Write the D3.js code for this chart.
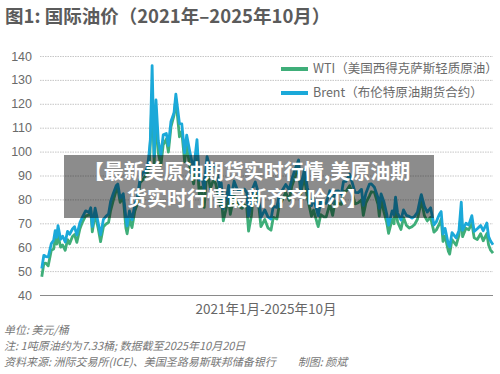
<!DOCTYPE html>
<html>
<head>
<meta charset="utf-8">
<script src="https://cdn.jsdelivr.net/npm/d3@7"></script>
<style>
  html, body { margin: 0; padding: 0; background: #fff; }
  svg { display: block; font-family: "Noto Sans CJK SC", "Noto Sans", sans-serif; }
</style>
</head>
<body>
<div id="chart"></div>
<script>
// sample dates (roughly every 10 days, with the spikes kept)
const dates = [
  "2021-01-04","2021-01-12","2021-01-20","2021-01-29","2021-02-10","2021-02-19","2021-02-25","2021-03-03","2021-03-08","2021-03-18",
  "2021-03-26","2021-04-05","2021-04-14","2021-04-22","2021-05-03","2021-05-11","2021-05-20","2021-06-01","2021-06-10","2021-06-23",
  "2021-07-06","2021-07-13","2021-07-19","2021-07-30","2021-08-10","2021-08-20","2021-08-31","2021-09-10","2021-09-20","2021-09-28",
  "2021-10-08","2021-10-20","2021-10-26","2021-11-04","2021-11-16","2021-11-26","2021-12-01","2021-12-10","2021-12-20","2021-12-31",
  "2022-01-10","2022-01-20","2022-01-31","2022-02-10","2022-02-18","2022-02-24","2022-03-01","2022-03-08","2022-03-16","2022-03-23",
  "2022-04-01","2022-04-11","2022-04-20","2022-05-02","2022-05-10","2022-05-20","2022-06-01","2022-06-08","2022-06-22","2022-07-01",
  "2022-07-12","2022-07-20","2022-08-01","2022-08-16","2022-08-29","2022-09-07","2022-09-15","2022-09-26","2022-10-07","2022-10-20",
  "2022-11-01","2022-11-10","2022-11-28","2022-12-01","2022-12-09","2022-12-20","2022-12-30","2023-01-05","2023-01-20","2023-01-31",
  "2023-02-07","2023-02-20","2023-03-01","2023-03-10","2023-03-17","2023-03-28","2023-04-03","2023-04-12","2023-04-24","2023-05-04",
  "2023-05-19","2023-05-31","2023-06-12","2023-06-21","2023-07-05","2023-07-13","2023-07-25","2023-08-08","2023-08-22","2023-09-01",
  "2023-09-12","2023-09-27","2023-10-05","2023-10-19","2023-10-31","2023-11-16","2023-11-24","2023-12-12","2023-12-22","2024-01-03",
  "2024-01-12","2024-01-26","2024-02-06","2024-02-16","2024-02-29","2024-03-11","2024-03-19","2024-03-28","2024-04-12","2024-04-22",
  "2024-05-03","2024-05-15","2024-05-28","2024-06-04","2024-06-14","2024-06-28","2024-07-05","2024-07-17","2024-07-31","2024-08-05",
  "2024-08-12","2024-08-23","2024-09-03","2024-09-10","2024-09-24","2024-10-01","2024-10-07","2024-10-15","2024-10-28","2024-11-07",
  "2024-11-18","2024-11-29","2024-12-10","2024-12-20","2024-12-31","2025-01-10","2025-01-15","2025-01-27","2025-02-07","2025-02-20",
  "2025-03-05","2025-03-14","2025-03-26","2025-04-02","2025-04-09","2025-04-17","2025-04-30","2025-05-05","2025-05-14","2025-05-30",
  "2025-06-10","2025-06-19","2025-06-24","2025-07-07","2025-07-18","2025-07-30","2025-08-08","2025-08-20","2025-09-02","2025-09-12",
  "2025-09-26","2025-10-03","2025-10-10","2025-10-20"
];

const brent = [
  51.1,56.6,56.1,55.9,61.5,62.9,66.9,64.1,69.0,63.3,
  64.6,62.2,66.6,65.4,67.6,68.6,65.1,70.3,72.5,75.2,
  74.5,76.5,68.6,76.3,70.6,65.2,71.6,72.9,73.9,79.1,
  82.4,85.8,86.4,80.5,82.4,72.7,68.9,75.2,71.5,77.8,
  80.9,88.4,91.2,91.4,93.5,99.1,105.0,136.0,98.0,121.6,
  104.4,98.5,107.0,107.6,102.5,112.6,116.3,124.0,111.7,111.6,
  99.5,106.9,100.0,92.3,105.0,88.0,90.8,84.1,97.9,92.4,
  94.6,93.7,83.2,86.9,76.1,79.9,85.9,78.7,87.6,84.5,
  83.7,84.1,84.3,82.8,73.0,78.7,84.9,87.3,82.7,72.5,
  75.6,72.7,71.8,77.1,76.7,81.4,83.6,86.2,84.0,88.6,
  92.1,96.5,84.1,92.4,85.0,77.4,80.6,73.2,79.1,78.3,
  78.3,83.6,78.6,83.5,83.6,82.2,87.4,87.5,90.5,87.0,
  82.9,82.8,84.2,77.5,82.6,86.4,86.5,85.1,80.7,76.3,
  82.3,79.0,73.8,69.2,75.2,73.6,80.9,74.3,71.4,75.6,
  73.3,72.9,72.2,72.9,74.6,79.8,82.0,77.1,74.7,76.5,
  69.3,70.6,73.8,74.9,65.5,67.9,61.1,60.2,66.1,63.9,
  66.9,78.9,67.1,70.0,69.3,73.2,66.6,67.7,69.1,66.9,
  70.1,64.5,62.7,61.0
];

const wti = [
  47.6,53.2,53.3,52.2,58.7,59.2,63.5,61.3,65.1,60.0,
  60.9,58.7,63.2,61.4,64.5,65.3,62.0,67.7,70.3,73.1,
  73.4,75.3,66.4,73.9,68.3,62.3,68.5,69.7,70.3,75.3,
  79.4,83.9,84.7,78.8,80.8,68.2,65.6,71.7,68.2,75.2,
  78.2,86.9,88.2,89.9,91.1,92.8,103.4,124.0,95.0,114.9,
  99.3,94.3,102.8,105.2,99.8,110.3,115.3,122.1,106.2,108.4,
  95.8,102.3,93.9,86.5,97.0,81.9,85.1,76.7,92.6,84.5,
  88.4,86.5,77.2,81.2,71.0,76.1,80.3,73.7,81.6,78.9,
  77.1,76.3,77.7,76.7,66.7,73.2,80.4,83.3,78.8,68.6,
  71.6,68.1,67.1,72.5,71.8,77.0,79.6,82.9,79.6,85.6,
  88.8,93.7,82.3,89.4,81.0,72.9,75.5,68.6,73.6,72.7,
  72.7,78.0,73.3,79.2,78.3,77.9,83.5,83.2,85.7,82.9,
  78.1,78.6,79.8,73.3,78.5,81.5,83.2,82.9,77.9,73.0,
  80.1,74.8,70.3,65.8,71.6,69.8,77.1,70.6,67.4,72.4,
  69.2,68.0,68.6,69.5,71.7,76.6,80.0,73.2,71.0,72.5,
  66.3,67.2,69.7,71.7,62.4,64.7,58.2,57.1,63.2,60.8,
  65.0,75.1,64.4,67.9,67.3,70.0,63.9,63.2,65.6,62.7,
  65.7,60.9,58.9,57.5
];

const yTicks = [40, 50, 60, 70, 80, 90, 100, 110, 120, 130, 140];
const seriesNames = ["WTI（美国西得克萨斯轻质原油）", "Brent（布伦特原油期货合约）"];
const seriesColors = ["#3fae79", "#1ba9d9"];

const titleText = "图1: 国际油价（2021年–2025年10月）";
const xLabel = "2021年1月-2025年10月";
const notes = [
  "单位: 美元/桶",
  "注: 1吨原油约为7.33桶; 数据截至2025年10月20日",
  "资料来源: 洲际交易所(ICE)、美国圣路易斯联邦储备银行　　制图: 颜斌"
];
const overlayLines = ["【最新美原油期货实时行情,美原油期", "货实时行情最新齐齐哈尔】"];

const W = 500, H = 374;
const margin = { top: 56, right: 7, bottom: 79, left: 40 };

const parse = d3.timeParse("%Y-%m-%d");
const data = dates.map((d, i) => ({ date: parse(d), wti: wti[i], brent: brent[i] }));

const svg = d3.select("#chart").append("svg")
  .attr("width", W).attr("height", H);

svg.append("rect").attr("width", W).attr("height", H).attr("fill", "#fff");

// title
svg.append("text")
  .attr("x", 5).attr("y", 23)
  .attr("font-size", 18.5).attr("font-weight", "bold")
  .attr("fill", "#5b5b5b")
  .text(titleText);

var xScale = d3.scaleTime()
  .domain([parse("2021-01-01"), parse("2025-10-20")])
  .range([margin.left + 1, W - margin.right]);
var yScale = d3.scaleLinear()
  .domain([40, 140])
  .range([H - margin.bottom, margin.top]);

// gridlines + y labels
var yAxis = d3.axisLeft(yScale).tickValues(yTicks)
  .tickSize(-(W - margin.left - margin.right)).tickPadding(8);
var gy = svg.append("g")
  .attr("transform", `translate(${margin.left},0)`)
  .call(yAxis);
gy.select(".domain").remove();
gy.selectAll(".tick line")
  .attr("stroke", "#b8b8b8")
  .attr("stroke-dasharray", "1.5,1")
  .attr("stroke-width", 0.8);
gy.selectAll(".tick").filter(d => d === 40).select("line")
  .attr("stroke", "#8a8a8a").attr("stroke-dasharray", null).attr("stroke-width", 1.2);
gy.selectAll(".tick text")
  .attr("font-size", 12.5).attr("fill", "#6a6a6a")
  .attr("font-family", "'Liberation Sans', 'Noto Sans', sans-serif");

// lines
const keys = ["wti", "brent"];
keys.forEach((k, i) => {
  var line = d3.line()
    .x(d => xScale(d.date))
    .y(d => yScale(d[k]));
  svg.append("path")
    .datum(data)
    .attr("d", line)
    .attr("fill", "none")
    .attr("stroke", seriesColors[i])
    .attr("stroke-width", 2.8)
    .attr("stroke-linejoin", "round");
});

// legend
const legendY = [69, 93];
seriesNames.forEach((name, i) => {
  svg.append("line")
    .attr("x1", 281).attr("x2", 308)
    .attr("y1", legendY[i]).attr("y2", legendY[i])
    .attr("stroke", seriesColors[i]).attr("stroke-width", 4);
  svg.append("text")
    .attr("x", 313).attr("y", legendY[i])
    .attr("dy", "0.35em")
    .attr("font-size", 12.5).attr("fill", "#6a6a6a")
    .text(name);
});

// x label
svg.append("text")
  .attr("x", 266).attr("y", 314)
  .attr("text-anchor", "middle")
  .attr("font-size", 13.5).attr("fill", "#666")
  .text(xLabel);

// notes
const noteY = [334, 350, 366];
notes.forEach((t, i) => {
  svg.append("text")
    .attr("x", 4).attr("y", noteY[i])
    .attr("font-size", 11).attr("font-style", "italic")
    .attr("fill", "#777")
    .text(t);
});

// grey banner on top
svg.append("rect")
  .attr("x", 64).attr("y", 155)
  .attr("width", 370).attr("height", 63)
  .attr("fill", "rgba(0,0,0,0.45)");
overlayLines.forEach((t, i) => {
  svg.append("text")
    .attr("x", 247).attr("y", 179 + i * 27)
    .attr("text-anchor", "middle")
    .attr("font-size", 20).attr("font-weight", "bold")
    .attr("fill", "#fff")
    .text(t);
});
</script>
</body>
</html>
